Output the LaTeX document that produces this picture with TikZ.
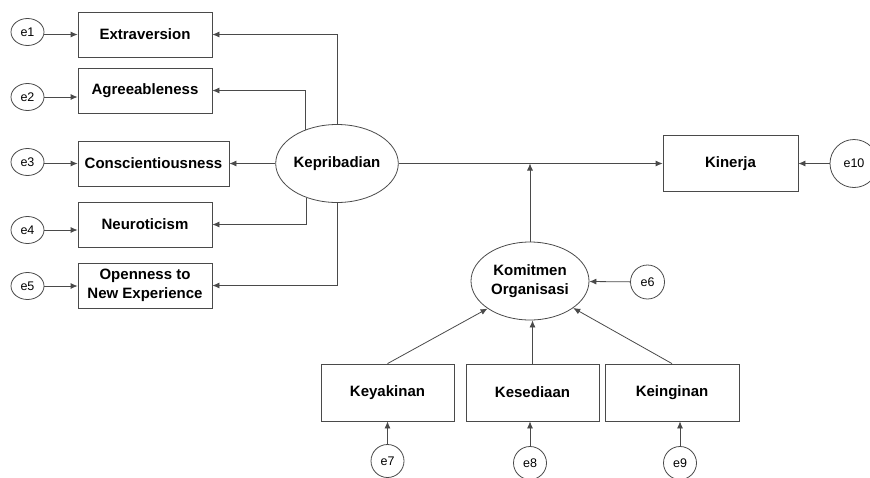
\documentclass[tikz,border=0pt]{standalone}
\usepackage{fontspec}
\setmainfont{Liberation Sans}
\usetikzlibrary{shapes.geometric,arrows.meta,calc}
\definecolor{linec}{HTML}{4A4A4A}
\begin{document}
\begin{tikzpicture}[x=1pt,y=-1pt,
  every node/.style={inner sep=0pt},
  boxnode/.style={draw=linec,line width=0.8pt,rectangle,align=center,
    font=\fontsize{15}{18.5}\selectfont\bfseries},
  latnode/.style={draw=linec,line width=0.8pt,ellipse,minimum width=118pt,minimum height=78pt,
    align=center,font=\fontsize{15}{18.5}\selectfont\bfseries},
  errnode/.style={draw=linec,line width=0.8pt,ellipse,font=\fontsize{12.5}{14}\selectfont},
  arr/.style={draw=linec,line width=0.8pt,-{Latex[length=7pt,width=6pt]}}
]
\useasboundingbox (0,0) rectangle (870,477);
% left column boxes
\node[boxnode,minimum width=134pt,minimum height=45pt] (ext) at (145,34.5) {Extraversion};
\node[boxnode,minimum width=134pt,minimum height=45pt] (agr) at (145,90.5) {Agreeableness};
\node[boxnode,minimum width=151pt,minimum height=45pt] (con) at (153.5,163.5) {Conscientiousness};
\node[boxnode,minimum width=134pt,minimum height=45pt] (neu) at (145,224.5) {Neuroticism};
\node[boxnode,minimum width=134pt,minimum height=45pt] (ope) at (145,285.5) {Openness to\\New Experience};
% error terms left
\node[errnode,minimum width=33pt,minimum height=27pt] (e1) at (27.5,32) {e1};
\node[errnode,minimum width=33pt,minimum height=27pt] (e2) at (27.5,97) {e2};
\node[errnode,minimum width=33pt,minimum height=27pt] (e3) at (27.5,162) {e3};
\node[errnode,minimum width=33pt,minimum height=27pt] (e4) at (27.5,230) {e4};
\node[errnode,minimum width=33pt,minimum height=27pt] (e5) at (27.5,286) {e5};
% latent
\node[latnode] (kep) at (337,163.5) {Kepribadian};
\node[latnode] (kom) at (530,281) {Komitmen\\Organisasi};
% Kinerja
\node[boxnode,minimum width=135pt,minimum height=56pt] (kin) at (730.5,163.5) {Kinerja};
\node[errnode,minimum size=48pt] (e10) at (854,163.5) {e10};
\node[errnode,minimum size=34pt] (e6) at (647.5,282) {e6};
% bottom boxes
\node[boxnode,minimum width=133pt,minimum height=57pt] (key) at (387.5,392.5) {Keyakinan};
\node[boxnode,minimum width=133pt,minimum height=57pt] (kes) at (532.5,392.5) {Kesediaan};
\node[boxnode,minimum width=134pt,minimum height=57pt] (kei) at (672,392.5) {Keinginan};
\node[errnode,minimum size=33pt] (e7) at (387.5,461) {e7};
\node[errnode,minimum size=33pt] (e8) at (530,463) {e8};
\node[errnode,minimum size=33pt] (e9) at (680,463) {e9};
% arrows from errors
\draw[arr] (e1.east |- ext.west) -- (ext.west);
\draw[arr] (e2.east) -- (agr.west |- e2.east);
\draw[arr] (e3.east |- con.west) -- (con.west);
\draw[arr] (e4.east) -- (neu.west |- e4.east);
\draw[arr] (e5.east) -- (ope.west |- e5.east);
% Kepribadian loadings
\draw[arr] (kep.north) |- (ext.east);
\draw[arr] (kep.133) |- (agr.east);
\draw[arr] (kep.west) -- (con.east);
\draw[arr] (kep.228) |- (neu.east);
\draw[arr] (kep.south) |- (ope.east);
% structural paths
\draw[arr] (kep.east) -- (kin.west);
\coordinate (mid) at (kom.north |- kin.west);
\draw[arr] (kom.north) -- (mid);
\draw[arr] (e10) -- (kin);
\draw[arr] (e6) -- (kom);
% indicators of Komitmen
\draw[arr] (key.north) -- (kom.213);
\draw[arr] (kes.north) -- (kom.south -| kes.north);
\draw[arr] (kei.north) -- (kom.328);
\draw[arr] (e7) -- (key);
\draw[arr] (e8.north) -- (kes.south -| e8.north);
\draw[arr] (e9.north) -- (kei.south -| e9.north);
\end{tikzpicture}
\end{document}
